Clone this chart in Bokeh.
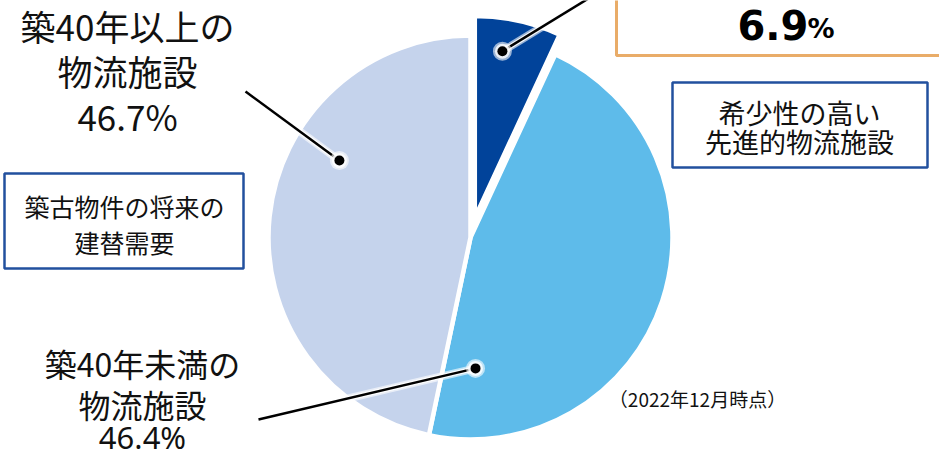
import math
from bokeh.plotting import figure
from bokeh.models import Range1d
from bokeh.core.properties import value
from bokeh.embed import file_html
from bokeh.resources import INLINE

# ---- data ----
categories = ["希少性の高い先進的物流施設", "築40年未満の物流施設", "築40年以上の物流施設"]
shares = [6.9, 46.4, 46.7]
colors = ["#01439A", "#5EBBEA", "#C5D3EC"]
share_labels = ["6.9", "46.4%", "46.7%"]
note = "（2022年12月時点）"

# ---- layout (reference pixel coordinates, y measured from top) ----
W, H = 939, 458
def Y(v):
    return H - v

FONT = "Noto Sans CJK JP"
CX, CY, R = 470, 237, 202
explode = [20, 0, 0]
dot_angle = [9.4, 177.8, 300.4]   # degrees clockwise from top
dot_r = [169, 131, 152]
line_end = [(601, -10), (258, 419), (245, 91)]

p = figure(width=W, height=H, x_range=Range1d(0, W), y_range=Range1d(0, H),
           output_backend="svg", toolbar_location=None, min_border=0)
p.axis.visible = False
p.grid.visible = False
p.outline_line_color = None
p.background_fill_color = "white"
p.border_fill_color = "white"

total = sum(shares)
cum = 0.0
dots_x, dots_y = [], []
for i, s in enumerate(shares):
    a1 = 2 * math.pi * cum / total
    a2 = 2 * math.pi * (cum + s) / total
    cum += s
    mid = (a1 + a2) / 2
    cx = CX + explode[i] * math.sin(mid)
    cy = Y(CY) + explode[i] * math.cos(mid)
    p.wedge(x=[cx], y=[cy], radius=R, start_angle=math.pi / 2 - a2, end_angle=math.pi / 2 - a1,
            direction="anticlock", fill_color=colors[i], line_color="white", line_width=4.5)
    da = math.radians(dot_angle[i])
    dots_x.append(cx + dot_r[i] * math.sin(da))
    dots_y.append(cy + dot_r[i] * math.cos(da))

# leader lines with white halo
for i in range(3):
    xs = [dots_x[i], line_end[i][0]]
    ys = [dots_y[i], Y(line_end[i][1])]
    p.line(xs, ys, line_color="white", line_width=8, line_alpha=0.6)
    p.line(xs, ys, line_color="white", line_width=5, line_alpha=0.9)
for i in range(3):
    xs = [dots_x[i], line_end[i][0]]
    ys = [dots_y[i], Y(line_end[i][1])]
    p.line(xs, ys, line_color="black", line_width=2.5)
p.scatter(dots_x, dots_y, size=19, fill_color="white", line_color=None, fill_alpha=0.6)
p.scatter(dots_x, dots_y, size=15, fill_color="white", line_color=None, fill_alpha=0.8)
p.scatter(dots_x, dots_y, size=10, fill_color="black", line_color=None)

# boxes
p.quad(left=[616], right=[990], top=[Y(-30)], bottom=[Y(55)], fill_color="white",
       line_color="#E9AC68", line_width=3)
p.quad(left=[4, 672], right=[243, 927], top=[Y(173), Y(82)], bottom=[Y(268), Y(167)],
       fill_color="white", line_color="#22509E", line_width=2.5)

# 6.9% label
p.text(x=[737], y=[Y(24)], text=[share_labels[0]], text_font=value("DejaVu Sans"),
       text_font_style="bold", text_font_size="40px", text_align="left",
       text_baseline="middle", text_color="black")
p.text(x=[807], y=[Y(28)], text=["%"], text_font=value("DejaVu Sans"),
       text_font_style="bold", text_font_size="27px", text_align="left",
       text_baseline="middle", text_color="black")

def lines(x, ys, texts, size, font=FONT):
    p.text(x=[x] * len(ys), y=[Y(v) for v in ys], text=texts, text_font=value(font),
           text_font_size=size, text_align="center", text_baseline="middle",
           text_color="#111111")

lines(127, [25, 70, 115], ["築40年以上の", "物流施設", share_labels[2]], "35px")
lines(142, [362, 403], ["築40年未満の", "物流施設"], "32px")
lines(142, [436], [share_labels[1]], "31px", "Noto Sans")
lines(124, [205, 241], ["築古物件の将来の", "建替需要"], "25px")
lines(799, [112, 141], ["希少性の高い", "先進的物流施設"], "27px")
p.text(x=[697], y=[Y(398)], text=[note], text_font=value(FONT), text_font_size="19px",
       text_align="center", text_baseline="middle", text_color="#111111")

open("out.html", "w").write(file_html(p, INLINE))
